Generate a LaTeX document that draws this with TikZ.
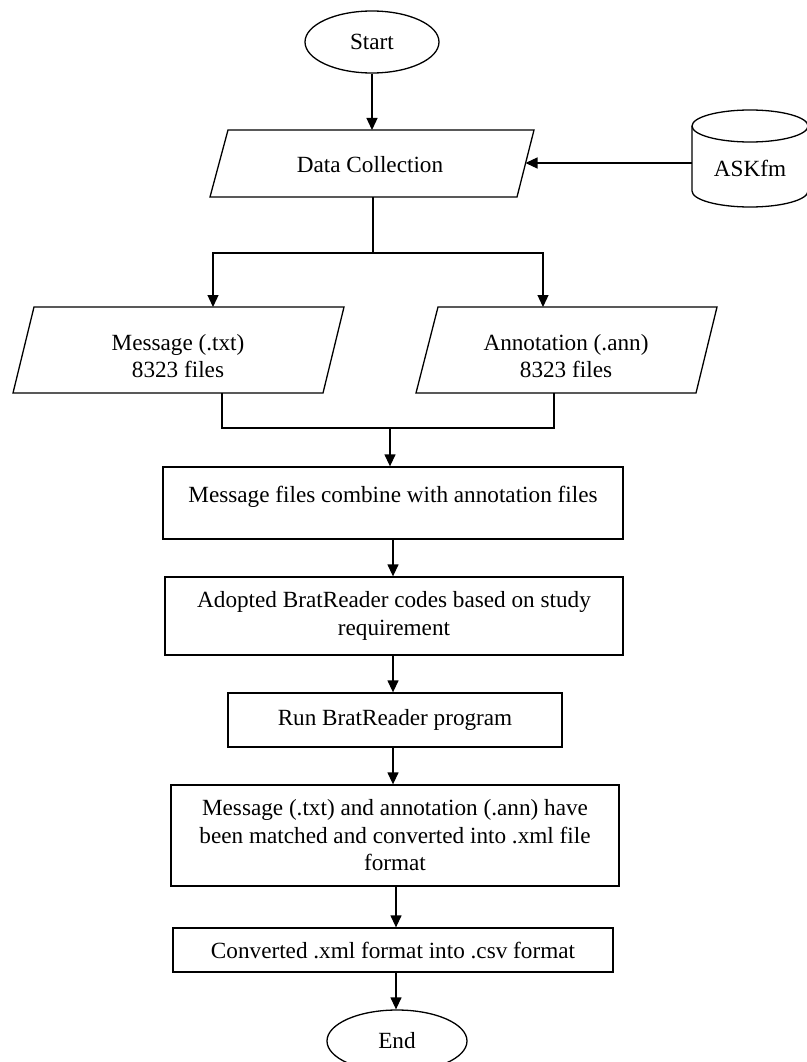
\documentclass[tikz,border=0pt]{standalone}
\usepackage{fontspec}
\setmainfont{Liberation Serif}
\usetikzlibrary{shapes.geometric,arrows.meta,calc}
\begin{document}
\begin{tikzpicture}[x=1pt,y=-1pt,
  line width=1.3pt,
  every node/.style={font=\fontsize{23.2}{27.5}\selectfont, inner sep=0pt, align=center},
  arr/.style={-{Triangle[length=12pt,width=11pt]}},
  box/.style={draw, rectangle},
  term/.style={draw, ellipse}]
\useasboundingbox (0,0) rectangle (806,1062);

% Start
\node[term, minimum width=134pt, minimum height=62pt] (start) at (372,42) {Start};

% Data Collection
\draw (228,130) -- (534,130) -- (517,197) -- (210,197) -- cycle;
\node (dc) at (370,165) {Data Collection};
\coordinate (dcT) at (372,130);
\coordinate (dcB) at (373,197);
\coordinate (dcR) at (525.5,163);

% ASKfm cylinder
\draw (692,126) arc[start angle=180, end angle=-180, x radius=58, y radius=16];
\draw (692,126) -- (692,191) arc[start angle=180, end angle=0, x radius=58, y radius=16] -- (808,126);
\node (ask) at (750,168) {ASKfm};
\coordinate (askL) at (692,163);

% Message / Annotation
\draw (34,307) -- (344,307) -- (323,393) -- (13,393) -- cycle;
\node (msg) at (178,356) {Message (.txt)\\8323 files};
\draw (438,307) -- (717,307) -- (696,393) -- (416,393) -- cycle;
\node (ann) at (566,356) {Annotation (.ann)\\8323 files};
\coordinate (br) at (373,253);
\coordinate (mT) at (213,307);
\coordinate (aT) at (543,307);
\coordinate (mB) at (222,393);
\coordinate (aB) at (554,393);
\coordinate (mg) at (390,428);

% Process boxes
\node[box, minimum width=460pt, minimum height=72pt] (b1) at (393,503) {};
\node (t1) at (393,497) {Message files combine with annotation files};
\node[box, minimum width=458pt, minimum height=78pt] (b2) at (394,616) {Adopted BratReader codes based on study\\requirement};
\node[box, minimum width=334pt, minimum height=54pt] (b3) at (395,720) {Run BratReader program};
\node[box, minimum width=448pt, minimum height=101pt] (b4) at (395,835.5) {Message (.txt) and annotation (.ann) have\\been matched and converted into .xml file\\format};
\node[box, minimum width=440pt, minimum height=44pt] (b5) at (393,950) {Converted .xml format into .csv format};

% End
\node[term, minimum width=140pt, minimum height=62pt] (end) at (397,1041) {End};

% Connectors
\coordinate (x1) at (393,0);
\coordinate (x2) at (396,0);
\draw[arr] (start.south) -- (start.south |- dcT);
\draw[arr] (askL) -- (dcR);
\draw (dcB) -- (br);
\draw[arr] (br) -| (mT);
\draw[arr] (br) -| (aT);
\draw (mB) |- (mg);
\draw (aB) |- (mg);
\draw[arr] (mg) -- (mg |- b1.north);
\draw[arr] (b1.south -| x1) -- (b2.north -| x1);
\draw[arr] (b2.south -| x1) -- (b3.north -| x1);
\draw[arr] (b3.south -| x1) -- (b4.north -| x1);
\draw[arr] (b4.south -| x2) -- (b5.north -| x2);
\draw[arr] (b5.south -| x2) -- (end.north -| x2);
\end{tikzpicture}
\end{document}
